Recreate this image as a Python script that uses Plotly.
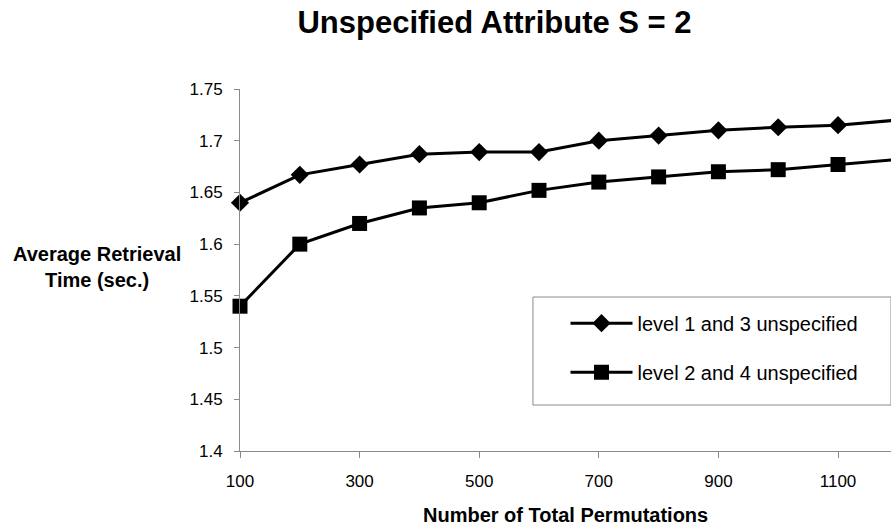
import plotly.graph_objects as go

# Number of total permutations (x) and average retrieval times (y, seconds)
permutations = [100, 200, 300, 400, 500, 600, 700, 800, 900, 1000, 1100, 1200]
level_1_3 = [1.64, 1.667, 1.677, 1.687, 1.689, 1.689, 1.70, 1.705, 1.71, 1.713, 1.715, 1.72]
level_2_4 = [1.54, 1.60, 1.62, 1.635, 1.64, 1.652, 1.66, 1.665, 1.67, 1.672, 1.677, 1.682]

series_names = ["level 1 and 3 unspecified", "level 2 and 4 unspecified"]
x_tick_values = [100, 300, 500, 700, 900, 1100]

FONT = "Liberation Sans, Arial, sans-serif"
AXIS_GREY = "#8a8a8a"

fig = go.Figure()
fig.add_trace(go.Scatter(
    x=permutations, y=level_1_3, name=series_names[0], mode="lines+markers",
    line=dict(color="black", width=3),
    marker=dict(symbol="diamond", size=14, color="black"),
    cliponaxis=False, legendgroup="a",
))
fig.add_trace(go.Scatter(
    x=permutations, y=level_2_4, name=series_names[1], mode="lines+markers",
    line=dict(color="black", width=3),
    marker=dict(symbol="square", size=15, color="black"),
    cliponaxis=False, legendgroup="b",
))

# Legend frame
fig.add_shape(type="rect", xref="paper", yref="paper",
              x0=0.45, x1=1.0, y0=0.127, y1=0.4254,
              line=dict(color=AXIS_GREY, width=1), fillcolor="white", layer="below")

# Vertical axis title (horizontal text, two lines)
fig.add_annotation(text="<b>Average Retrieval<br>Time (sec.)</b>", xref="paper", yref="paper",
                   x=-0.219, y=0.508, xanchor="center", yanchor="middle", showarrow=False,
                   font=dict(family=FONT, size=20, color="black"), align="center")
# Horizontal axis title
fig.add_annotation(text="<b>Number of Total Permutations</b>", xref="paper", yref="paper",
                   x=0.5, y=-0.177, xanchor="center", yanchor="middle", showarrow=False,
                   font=dict(family=FONT, size=20, color="black"))

fig.update_layout(
    width=891, height=532,
    margin=dict(l=240, r=0, t=89, b=81),
    paper_bgcolor="white", plot_bgcolor="white",
    font=dict(family=FONT, color="black"),
    title=dict(text="<b>Unspecified Attribute S = 2</b>", x=0.555, xanchor="center",
               xref="container", y=0.9586, yanchor="middle", yref="container",
               font=dict(family=FONT, size=31, color="black")),
    showlegend=True,
    legend=dict(x=0.5, y=0.407, xanchor="left", yanchor="top", bgcolor="rgba(0,0,0,0)",
                borderwidth=0, font=dict(family=FONT, size=20, color="black"),
                tracegroupgap=20, itemwidth=62),
    xaxis=dict(range=[100, 1188.6], tickvals=x_tick_values, showgrid=False, zeroline=False,
               showline=True, linecolor=AXIS_GREY, linewidth=1,
               ticks="outside", ticklen=6, tickcolor=AXIS_GREY, ticklabelstandoff=9,
               tickfont=dict(family=FONT, size=17, color="black")),
    yaxis=dict(range=[1.4, 1.75], dtick=0.05, tick0=1.4, showgrid=False, zeroline=False,
               showline=True, linecolor=AXIS_GREY, linewidth=1,
               ticks="outside", ticklen=5, tickcolor=AXIS_GREY, ticklabelstandoff=8,
               tickfont=dict(family=FONT, size=17, color="black")),
)

fig.write_html("out.html")
